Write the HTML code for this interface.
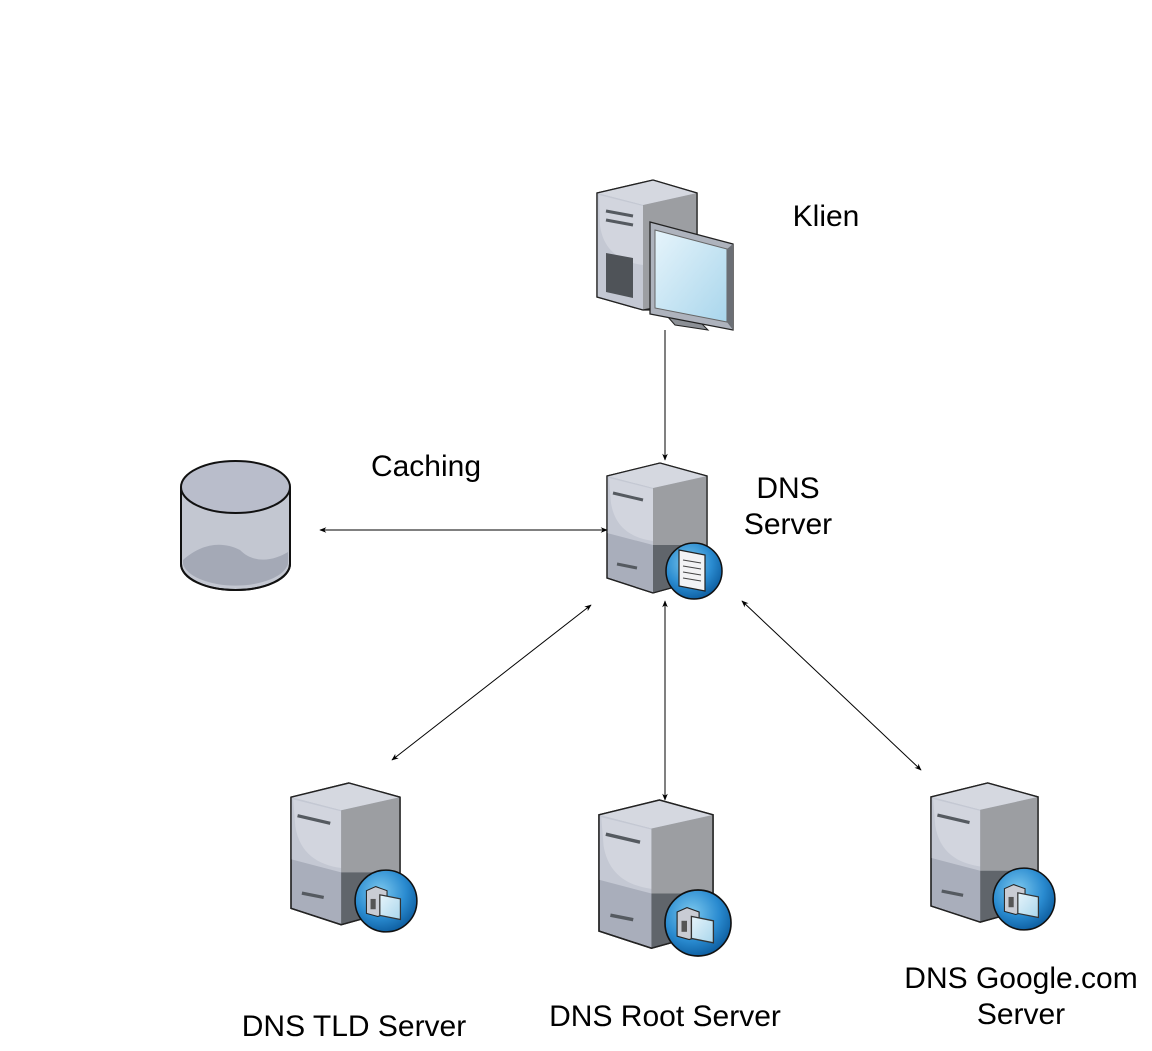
<!DOCTYPE html>
<html><head><meta charset="utf-8"><style>
html,body{margin:0;padding:0;background:#fff;}
svg{display:block;font-family:"Liberation Sans",sans-serif;}
</style></head><body>
<svg width="1152" height="1051" viewBox="0 0 1152 1051" xmlns="http://www.w3.org/2000/svg">
<defs>
<radialGradient id="glb" cx="0.4" cy="0.35" r="0.7">
<stop offset="0" stop-color="#7cc8ee"/><stop offset="0.6" stop-color="#2a8bd0"/><stop offset="1" stop-color="#0b5a9c"/>
</radialGradient>
<linearGradient id="scr" x1="0" y1="0" x2="1" y2="1">
<stop offset="0" stop-color="#e6f4fb"/><stop offset="1" stop-color="#a9d6ec"/>
</linearGradient>
<marker id="ah" viewBox="0 0 10 10" refX="9" refY="5" markerWidth="7" markerHeight="7" orient="auto-start-reverse">
<path d="M0,1 L10,5 L0,9 L3,5 z" fill="#000"/>
</marker>
<g id="srv">
<polygon points="0,13 53,0 100,13 100,115 46,130 0,115" fill="#a9aebb" stroke="#222" stroke-width="1.3"/>
<polygon points="0,13 46,25 46,82 0,70" fill="#c4c8d3"/>
<path d="M2,15 L46,26 L46,78 C25,75 8,65 4,40 Z" fill="#d2d5de"/>
<polygon points="46,25 100,13 100,82 46,82" fill="#9c9ea2"/>
<polygon points="46,82 100,82 100,115 46,130" fill="#60656b"/>
<polygon points="0,13 53,0 100,13 46,25" fill="#d5d8e0"/>
<polygon points="0,13 53,0 100,13 100,115 46,130 0,115" fill="none" stroke="#222" stroke-width="1.3"/>
<line x1="6" y1="30" x2="36" y2="37" stroke="#555a60" stroke-width="3"/>
<line x1="10" y1="101" x2="30" y2="105" stroke="#555a60" stroke-width="3"/>
</g>
<g id="mini">
<circle cx="0" cy="0" r="30" fill="url(#glb)" stroke="#111" stroke-width="1.5"/>
<polygon points="-19,-10 -10,-14 1,-10 1,12 -8,15 -19,12" fill="#c9ccd4" stroke="#222" stroke-width="1"/>
<rect x="-15" y="-2" width="5" height="10" fill="#555"/>
<polygon points="-6,-6 14,-2 14,18 -6,14" fill="url(#scr)" stroke="#333" stroke-width="1.2"/>
</g>
</defs>

<polygon points="597,193 653,180 697,193 697,310 643,310 597,297" fill="#a9aebb" stroke="#222" stroke-width="1.3"/>
<polygon points="597,193 643,205 643,310 597,297" fill="#c4c8d3"/>
<path d="M599,195 L643,206 L643,265 C620,262 603,250 600,225 Z" fill="#d2d5de"/>
<polygon points="643,205 697,193 697,300 643,310" fill="#9c9ea2"/>
<polygon points="597,193 653,180 697,193 643,205" fill="#d5d8e0"/>
<polygon points="597,193 653,180 697,193 697,300 643,310 597,297" fill="none" stroke="#222" stroke-width="1.3"/>
<line x1="606" y1="211" x2="633" y2="216" stroke="#555a60" stroke-width="3"/>
<line x1="606" y1="220" x2="633" y2="225" stroke="#555a60" stroke-width="3"/>
<polygon points="606,253 633,258 633,298 606,292" fill="#4f5358"/>
<polygon points="667,316 700,322 708,330 675,325" fill="#8c9096" stroke="#222" stroke-width="1"/>
<polygon points="650,222 733,244 733,330 650,314" fill="#aeb3bd" stroke="#222" stroke-width="1.3"/>
<polygon points="655,230 727,249 727,322 655,308" fill="url(#scr)" stroke="#666" stroke-width="1"/>
<polygon points="727,249 733,244 733,330 727,322" fill="#6b6f75"/>

<use href="#srv" transform="translate(607,463)"/>
<circle cx="694" cy="571" r="28" fill="url(#glb)" stroke="#111" stroke-width="1.5"/>
<polygon points="679,550 705,555 705,591 679,586" fill="#f2f3f5" stroke="#222" stroke-width="1.2"/>
<g stroke="#444" stroke-width="1"><line x1="683" y1="560" x2="701" y2="563"/><line x1="683" y1="566" x2="701" y2="569"/><line x1="683" y1="572" x2="701" y2="575"/><line x1="683" y1="578" x2="701" y2="581"/></g>

<use href="#srv" transform="translate(291,783) scale(1.09)"/>
<use href="#mini" transform="translate(386,901) scale(1.03)"/>
<use href="#srv" transform="translate(599,800) scale(1.14)"/>
<use href="#mini" transform="translate(698,923) scale(1.1)"/>
<use href="#srv" transform="translate(931,783) scale(1.07)"/>
<use href="#mini" transform="translate(1024,899) scale(1.03)"/>

<path d="M181,487 L181,564 A54.5,26 0 0 0 290,564 L290,487" fill="#c3c7d1" stroke="#111" stroke-width="2"/>
<path d="M183,560 C200,545 220,540 240,550 C255,565 275,560 288,552 L288,564 A53,25 0 0 1 183,564 Z" fill="#a4a9b6"/>
<ellipse cx="235.5" cy="487" rx="54.5" ry="26" fill="#b9bdcb" stroke="#111" stroke-width="2"/>
<path d="M181,487 L181,564 A54.5,26 0 0 0 290,564 L290,487" fill="none" stroke="#111" stroke-width="2"/>

<g stroke="#000" stroke-width="1" fill="none">
<line x1="665" y1="330" x2="665" y2="460" marker-end="url(#ah)"/>
<line x1="320" y1="530" x2="607" y2="530" marker-start="url(#ah)" marker-end="url(#ah)"/>
<line x1="591" y1="605" x2="392" y2="760" marker-start="url(#ah)" marker-end="url(#ah)"/>
<line x1="665" y1="601" x2="665" y2="800" marker-start="url(#ah)" marker-end="url(#ah)"/>
<line x1="742" y1="601" x2="921" y2="770" marker-start="url(#ah)" marker-end="url(#ah)"/>
</g>

<g font-size="30" fill="#000" text-anchor="middle">
<text x="826" y="226">Klien</text>
<text x="426" y="476">Caching</text>
<text x="788" y="498">DNS</text>
<text x="788" y="534">Server</text>
<text x="354" y="1036">DNS TLD Server</text>
<text x="665" y="1026">DNS Root Server</text>
<text x="1021" y="988">DNS Google.com</text>
<text x="1021" y="1024">Server</text>
</g>
</svg>
</body></html>
